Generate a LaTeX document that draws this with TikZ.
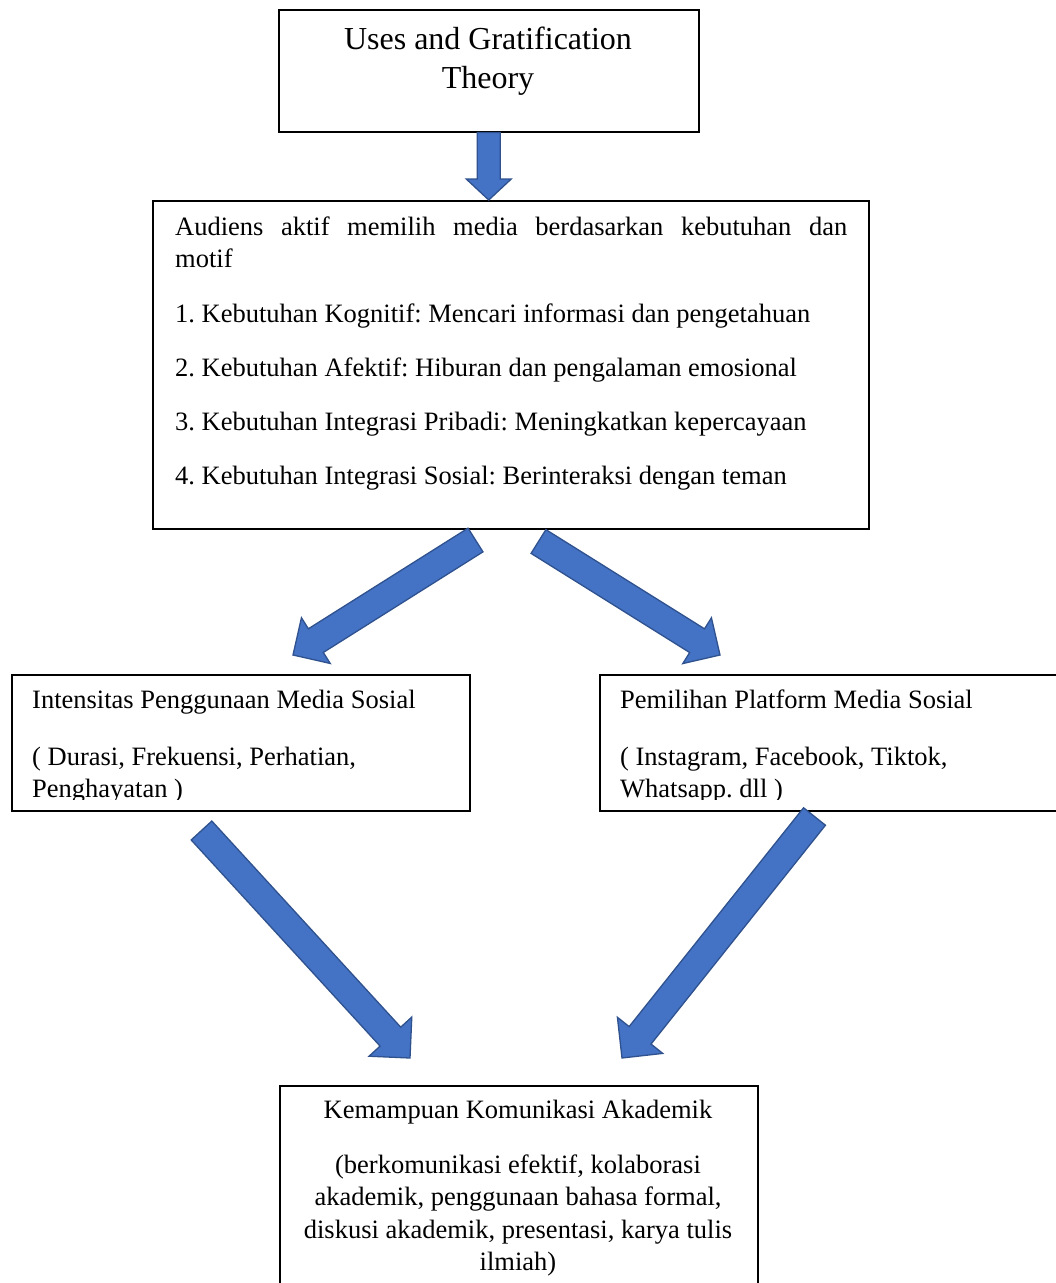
\documentclass[tikz,border=0pt]{standalone}
\usepackage{fontspec}
\setmainfont{Liberation Serif}
\usetikzlibrary{calc}
\frenchspacing
\definecolor{arrfill}{HTML}{4472C4}
\definecolor{arrdraw}{HTML}{2F528F}
\tikzset{
  box/.style={draw=black, line width=1.5pt, inner sep=0pt, anchor=north west},
  body/.style={inner sep=0pt, font=\fontsize{26.5}{32}\selectfont},
  titletxt/.style={inner sep=0pt, anchor=base, font=\fontsize{32}{38}\selectfont},
  blockarrow/.style={fill=arrfill, draw=arrdraw, line width=1.3pt, line join=miter},
}
% #1 name, #2 tail, #3 tip, #4 shaft half width, #5 head half width, #6 head length
\newcommand{\barrow}[6]{%
  \coordinate (#1h) at ($(#3)!#6!(#2)$);
  \draw[blockarrow] ($(#2)!#4!90:(#3)$) -- ($(#1h)!#4!90:(#3)$) -- ($(#1h)!#5!90:(#3)$)
    -- (#3) -- ($(#1h)!#5!-90:(#3)$) -- ($(#1h)!#4!-90:(#3)$) -- ($(#2)!#4!-90:(#3)$) -- cycle;
}
\begin{document}
\begin{tikzpicture}[x=1pt,y=-1pt]
\clip (0,0) rectangle (1056,1283);
\fill[white] (0,0) rectangle (1056,1283);

% boxes
\node[box, minimum width=420pt, minimum height=122pt] (b1) at (278,9) {};
\node[box, minimum width=716pt, minimum height=328pt] (b2) at (152,200) {};
\node[box, minimum width=458pt, minimum height=136pt] (b3) at (11,674) {};
\node[box, minimum width=470pt, minimum height=136pt] (b4) at (599,674) {};
\node[box, minimum width=478pt, minimum height=250pt] (b5) at (279,1085) {};

% title
\node[titletxt] (t1) at (488,49) {Uses and Gratification};
\node[titletxt] (t2) at (488,88) {Theory};

% box 2 text
\node[body, anchor=base west] (m0) at (175,235) {\makebox[672pt][s]{Audiens aktif memilih media berdasarkan kebutuhan dan}};
\node[body, anchor=base west] (m1) at (175,267) {motif};
\node[body, anchor=base west] (m2) at (175,322) {1. Kebutuhan Kognitif: Mencari informasi dan pengetahuan};
\node[body, anchor=base west] (m3) at (175,376) {2. Kebutuhan Afektif: Hiburan dan pengalaman emosional};
\node[body, anchor=base west] (m4) at (175,430) {3. Kebutuhan Integrasi Pribadi: Meningkatkan kepercayaan};
\node[body, anchor=base west] (m5) at (175,484) {4. Kebutuhan Integrasi Sosial: Berinteraksi dengan teman};

% left / right boxes text
\node[body, anchor=base west] (l1) at (32,708) {Intensitas Penggunaan Media Sosial};
\node[body, anchor=base west] (l2) at (32,765) {( Durasi, Frekuensi, Perhatian,};
\node[body, anchor=base west] (r1) at (620,708) {Pemilihan Platform Media Sosial};
\node[body, anchor=base west] (r2) at (620,765) {( Instagram, Facebook, Tiktok,};
\begin{scope}
  \clip (0,674) rectangle (1056,799);
  \node[body, anchor=base west] (l3) at (32,797) {Penghayatan )};
  \node[body, anchor=base west] (r3) at (620,797) {Whatsapp. dll )};
\end{scope}

% bottom box text
\node[body, anchor=base] (k1) at (518,1118) {Kemampuan Komunikasi Akademik};
\node[body, anchor=base] (k2) at (518,1173) {(berkomunikasi efektif, kolaborasi};
\node[body, anchor=base] (k3) at (518,1205) {akademik, penggunaan bahasa formal,};
\node[body, anchor=base] (k4) at (518,1238) {diskusi akademik, presentasi, karya tulis};
\node[body, anchor=base] (k5) at (518,1270) {ilmiah)};

% arrow end points
\coordinate (a1t) at (b1.south);
\coordinate (a1p) at (b2.north -| b1.south);
\coordinate (a2t) at (475.5,540);
\coordinate (a2p) at (293,655);
\coordinate (a3t) at (538.5,541.5);
\coordinate (a3p) at (720,655);
\coordinate (a4t) at (201.5,830.5);
\coordinate (a4p) at (410,1058);
\coordinate (a5t) at (814.5,816.5);
\coordinate (a5p) at (622,1058);

\barrow{a1}{a1t}{a1p}{11.5pt}{22.5pt}{21pt}
\barrow{a2}{a2t}{a2p}{14pt}{27pt}{27pt}
\barrow{a3}{a3t}{a3p}{14pt}{27pt}{27pt}
\barrow{a4}{a4t}{a4p}{14pt}{29pt}{29pt}
\barrow{a5}{a5t}{a5p}{14pt}{29pt}{29pt}
\end{tikzpicture}
\end{document}
